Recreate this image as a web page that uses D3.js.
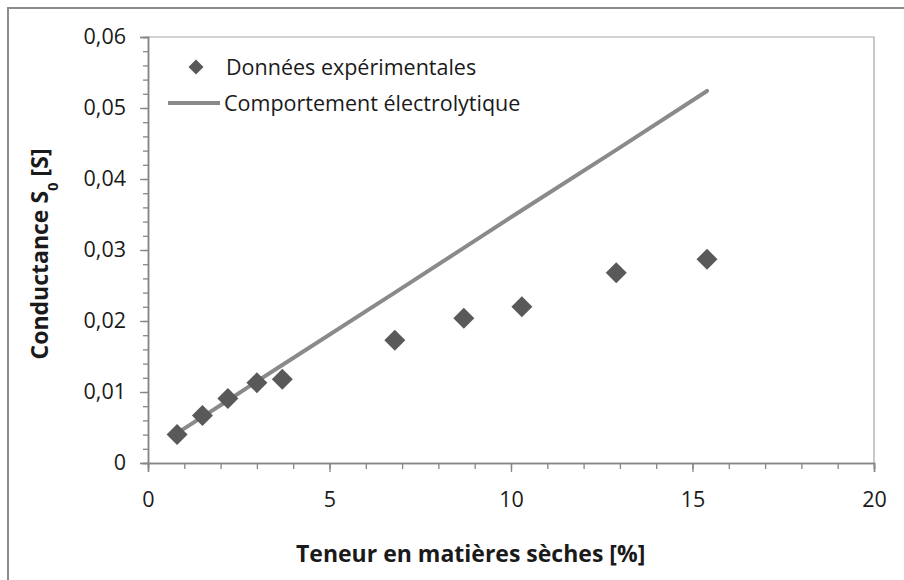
<!DOCTYPE html>
<html>
<head>
<meta charset="utf-8">
<script src="https://cdn.jsdelivr.net/npm/d3@7"></script>
<style>
  html, body { margin: 0; padding: 0; background: #fff; }
  svg { display: block; }
  text { font-family: "Open Sans", "Lato", sans-serif; fill: #1a1a1a; }
</style>
</head>
<body>
<svg id="chart" width="904" height="580"></svg>
<script>
// Measured conductance versus dry-matter content
const dryMatter   = [0.8, 1.5, 2.2, 3.0, 3.7, 6.8, 8.7, 10.3, 12.9, 15.4];
const conductance = [0.0040, 0.0067, 0.0091, 0.0113, 0.0118, 0.0173, 0.0204, 0.0220, 0.0268, 0.0287];

// Electrolytic behaviour (reference line)
const lineX = [0.8, 1.5, 2.2, 3.0, 3.7, 6.8, 8.7, 10.3, 12.9, 15.4];
const lineY = [0.0042, 0.0065, 0.0088, 0.0115, 0.0138, 0.0240, 0.0303, 0.0356, 0.0441, 0.0524];

const xTicks = [0, 5, 10, 15, 20];
const yTicks = [0, 0.01, 0.02, 0.03, 0.04, 0.05, 0.06];

const seriesNames = ["Données expérimentales", "Comportement électrolytique"];

const svg = d3.select("#chart");
const W = 904, H = 580;
const plot = { left: 148, right: 874, top: 37, bottom: 463 };
const fontSize = "21.5px";
const titleSize = "23px";

const axisColor = "#868686";
const markerColor = "#595959";
const lineColor = "#8a8a8a";

// Outer chart frame
svg.append("rect")
  .attr("x", 8).attr("y", 8)
  .attr("width", W + 20).attr("height", H + 20)
  .attr("fill", "#fff")
  .attr("stroke", "#8c8c8c")
  .attr("stroke-width", 2);

const x = d3.scaleLinear().domain([0, 20]).range([plot.left, plot.right]);
const y = d3.scaleLinear().domain([0, 0.06]).range([plot.bottom, plot.top]);

// Plot area border (top and right)
svg.append("path")
  .attr("d", `M${plot.left},${plot.top}H${plot.right}V${plot.bottom}`)
  .attr("fill", "none")
  .attr("stroke", "#a6a6a6")
  .attr("stroke-width", 1.2);

// Minor ticks
const yAxisMinor = d3.axisLeft(y).tickValues(d3.range(0, 0.0601, 0.002)).tickSize(5).tickFormat("");
const xAxisMinor = d3.axisBottom(x).tickValues(d3.range(0, 20.01, 1)).tickSize(6).tickFormat("");

const gyMinor = svg.append("g").attr("transform", `translate(${plot.left},0)`).call(yAxisMinor);
const gxMinor = svg.append("g").attr("transform", `translate(0,${plot.bottom})`).call(xAxisMinor);

// Major ticks with labels
const yAxis = d3.axisLeft(y).tickValues(yTicks).tickSize(8).tickPadding(14)
  .tickFormat(d => d === 0 ? "0" : d3.format(".2f")(d).replace(".", ","));
const xAxis = d3.axisBottom(x).tickValues(xTicks).tickSize(9).tickPadding(20)
  .tickFormat(d => String(d));

const gy = svg.append("g").attr("transform", `translate(${plot.left},0)`).call(yAxis);
const gx = svg.append("g").attr("transform", `translate(0,${plot.bottom})`).call(xAxis);

[gyMinor, gxMinor, gy, gx].forEach(g => {
  g.selectAll("path.domain").attr("stroke", axisColor).attr("stroke-width", 1.5);
  g.selectAll(".tick line").attr("stroke", axisColor).attr("stroke-width", 1.3);
});
[gy, gx].forEach(g => {
  g.selectAll(".tick text")
    .style("font-family", "'Open Sans', sans-serif")
    .style("font-size", fontSize)
    .attr("fill", "#1a1a1a");
});
gx.selectAll(".tick text").attr("dy", "0.71em");

// Reference line
const line = d3.line().x((d, i) => x(lineX[i])).y(d => y(d));
svg.append("path")
  .datum(lineY)
  .attr("d", line)
  .attr("fill", "none")
  .attr("stroke", lineColor)
  .attr("stroke-width", 4)
  .attr("stroke-linecap", "round");

// Experimental points as diamonds
const diamond = r => `M0,${-r}L${r},0L0,${r}L${-r},0Z`;
svg.append("g").selectAll("path")
  .data(dryMatter)
  .join("path")
  .attr("transform", (d, i) => `translate(${x(d)},${y(conductance[i])})`)
  .attr("d", diamond(10.5))
  .attr("fill", markerColor);

// Legend
const legend = svg.append("g");
legend.append("path")
  .attr("transform", "translate(196,67)")
  .attr("d", diamond(7.5))
  .attr("fill", markerColor);
legend.append("text")
  .attr("x", 226).attr("y", 67).attr("dy", "0.35em")
  .style("font-size", fontSize)
  .text(seriesNames[0]);
legend.append("line")
  .attr("x1", 168).attr("x2", 220).attr("y1", 103).attr("y2", 103)
  .attr("stroke", lineColor).attr("stroke-width", 4);
legend.append("text")
  .attr("x", 224).attr("y", 103).attr("dy", "0.35em")
  .style("font-size", fontSize)
  .text(seriesNames[1]);

// Axis titles
svg.append("text")
  .attr("x", 296).attr("y", 554)
  .attr("text-anchor", "start").attr("dy", "0.35em")
  .style("font-size", titleSize).style("font-weight", "bold")
  .text("Teneur en matières sèches [%]");

const yTitle = svg.append("text")
  .attr("transform", `translate(40,254) rotate(-90)`)
  .attr("text-anchor", "middle").attr("dy", "0.35em")
  .style("font-size", titleSize).style("font-weight", "bold");
yTitle.append("tspan").text("Conductance S");
yTitle.append("tspan").attr("baseline-shift", "sub").style("font-size", "15px").text("0");
yTitle.append("tspan").text(" [S]");
</script>
</body>
</html>
